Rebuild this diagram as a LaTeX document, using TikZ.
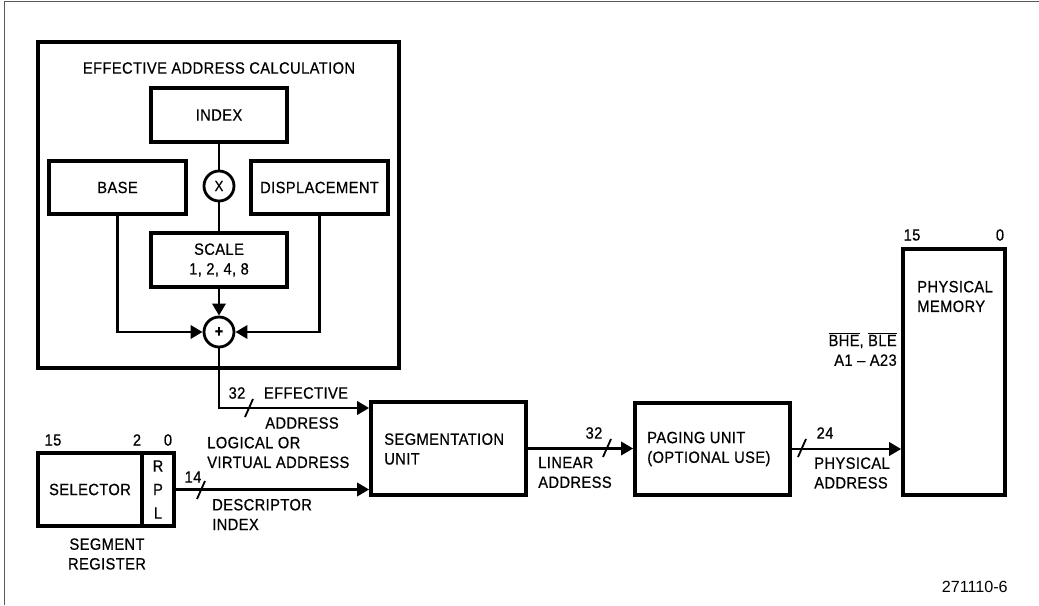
\documentclass[tikz,border=0pt]{standalone}
\usepackage{fontspec}
\setmainfont[FakeStretch=0.9, FakeBold=0.6, LetterSpace=2.5]{Liberation Sans}
\newfontfamily\plainfont{Liberation Sans}
\usetikzlibrary{arrows.meta, positioning, calc}

\tikzset{
  blk/.style={draw, line width=2.6pt, inner sep=0pt},
  op/.style={draw, circle, line width=2pt, minimum size=0.75cm, inner sep=0pt},
  wire/.style={line width=2pt},
  bus/.style={line width=1.3pt},
}

\begin{document}
\begin{tikzpicture}[x=0.025cm, y=-0.025cm, >={Triangle[length=0.3cm, width=0.33cm]},
    font=\fontsize{11.6}{14}\selectfont, every node/.style={inner sep=0pt}]
        \useasboundingbox (0,0) rectangle (1039,605);
        % page frame
        \draw [gray!70!black, line width=1.4pt] (4.5,605) -- (4.5,1.5) -- (1039,1.5);

        % effective address calculation
        \node [blk, minimum width=9.025cm, minimum height=8.15cm] (eac) at (218.5,205) {};
        \node (eactitle) at (219,68) {EFFECTIVE ADDRESS CALCULATION};
        \node [blk, minimum width=3.4cm, minimum height=1.35cm] (index) at (219,115) {INDEX};
        \node [blk, minimum width=3.425cm, minimum height=1.325cm] (base) at (117.5,187.5) {BASE};
        \node [blk, minimum width=3.425cm, minimum height=1.325cm] (disp) at (319.5,187.5) {DISPLACEMENT};
        \node [op, font=\fontsize{10.5}{12}\selectfont] (mul) at (219,186) {X};
        \node [blk, minimum width=3.4cm, minimum height=1.35cm, align=center] (scale) at (219,260) {SCALE\\1, 2, 4, 8};
        \node [op] (add) at (219,332) {\bfseries +};
        \draw [wire] (index) -- (mul);
        \draw [wire] (mul) -- (scale);
        \draw [wire, ->] (scale) -- (add);
        \draw [wire, ->] (base.south) |- (add);
        \draw [wire, ->] (disp.south) |- (add);

        % segment register
        \node [blk, minimum width=2.6cm, minimum height=1.825cm] (sel) at (90,489.5) {SELECTOR};
        \node [blk, minimum width=0.8cm, minimum height=1.825cm, align=center,
            font=\fontsize{11.6}{16.7}\selectfont] (rpl) at (158,489.5) {R\\P\\L};
        \node (b15) at (53,440) {15};
        \node (b2) at (137,440) {2};
        \node (b0) at (168,440) {0};
        \node [align=center] (segreg) at (107,554) {SEGMENT\\REGISTER};

        % units
        \node [blk, minimum width=3.875cm, minimum height=2.325cm] (segu) at (448.5,448.5) {};
        \node [anchor=west, align=left] (segutxt) at (384,449) {SEGMENTATION\\UNIT};
        \node [blk, minimum width=3.875cm, minimum height=2.3cm] (page) at (712.5,449) {};
        \node [anchor=west, align=left] (pagetxt) at (647,449) {PAGING UNIT\\(OPTIONAL USE)};
        \node [blk, minimum width=2.55cm, minimum height=6.15cm] (mem) at (954,372) {};
        \node [anchor=west, align=left] (memtxt) at (917,296.5) {PHYSICAL\\MEMORY};
        \node (m15) at (912,235) {15};
        \node (m0) at (1000,235) {0};
        \node [anchor=east, align=right] (bhe) at (897,349) {$\overline{\mbox{BHE}}$, $\overline{\mbox{BLE}}$\\A1 -- A23};

        % address paths
        \draw [wire, ->] (add.south) |- (segu.west |- 0,408);
        \draw [wire, ->] (rpl.east) -- (segu.west |- rpl.east);
        \draw [wire, ->] (segu.east) -- (page.west |- segu.east);
        \draw [wire, ->] (page.east) -- (mem.west |- page.east);
        \foreach \x/\y in {249/408, 201/490, 607/448, 802/448}
            \draw [bus] (\x-4,\y+9) -- (\x+4,\y-9);

        \node (ea32) at (237,393) {32};
        \node (eatxt) at (306,393) {EFFECTIVE};
        \node (eatxt2) at (302,423) {ADDRESS};
        \node [anchor=west, align=left] (logical) at (207,452.5) {LOGICAL OR\\VIRTUAL ADDRESS};
        \node (d14) at (193,477) {14};
        \node [anchor=west, align=left] (desc) at (212,514.5) {DESCRIPTOR\\INDEX};
        \node (l32) at (594,433) {32};
        \node [anchor=west, align=left] (linear) at (538,472.5) {LINEAR\\ADDRESS};
        \node (p24) at (825,433) {24};
        \node [anchor=west, align=left] (phys) at (814,473) {PHYSICAL\\ADDRESS};
        \node [anchor=east, font=\plainfont\fontsize{11.5}{14}\selectfont] (fig) at (1008,587) {271110-6};
    \end{tikzpicture}
\end{document}
